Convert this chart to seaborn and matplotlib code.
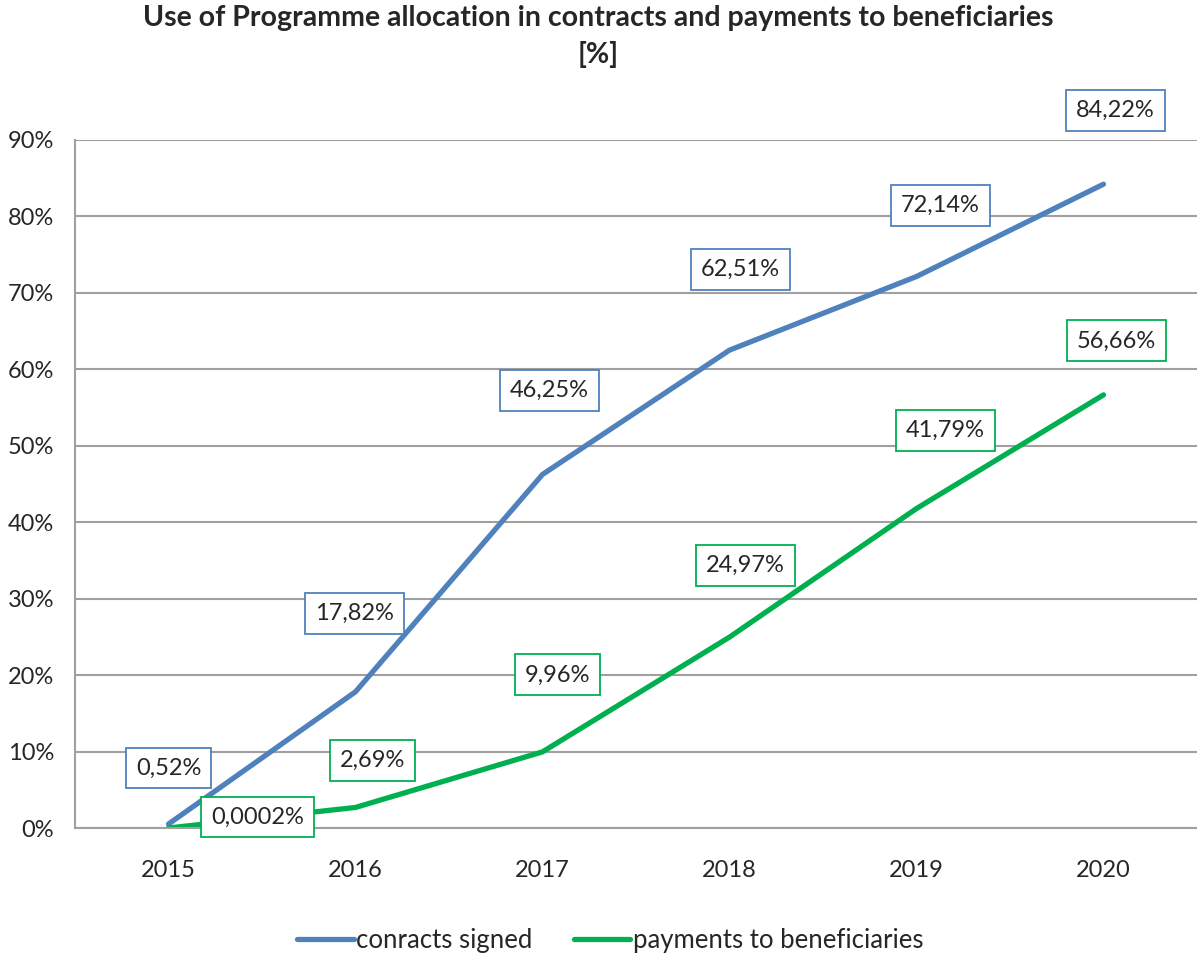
import numpy as np
import matplotlib
matplotlib.use("Agg")
import matplotlib.pyplot as plt
import pandas as pd
import seaborn as sns

years = ["2015", "2016", "2017", "2018", "2019", "2020"]
contracts = [0.52, 17.82, 46.25, 62.51, 72.14, 84.22]
payments = [0.0002, 2.69, 9.96, 24.97, 41.79, 56.66]
contract_labels = ["0,52%", "17,82%", "46,25%", "62,51%", "72,14%", "84,22%"]
payment_labels = ["0,0002%", "2,69%", "9,96%", "24,97%", "41,79%", "56,66%"]
series_names = ["conracts signed", "payments to beneficiaries"]

sns.set_style("white")
plt.rcParams['font.family'] = ['Lato', 'DejaVu Sans']

blue = "#4F81BD"
green = "#00B050"
grid = "#A0A0A0"

df = pd.DataFrame({
    "pos": list(range(len(years))) * 2,
    "value": contracts + payments,
    "series": [series_names[0]] * len(years) + [series_names[1]] * len(years),
})

fig = plt.figure(figsize=(11.97, 9.55), dpi=100)
ax = fig.add_axes([75 / 1197, 1 - 828 / 955, 1 - 75 / 1197, (828 - 140) / 955])

sns.lineplot(data=df, x="pos", y="value", hue="series", palette=[blue, green],
             linewidth=3.8, ax=ax, legend=False, solid_capstyle="round")

ax.set_xlim(-0.5, 5.5)
ax.set_ylim(0, 90)
ax.set_yticks(np.arange(0, 91, 10))
ax.set_yticklabels([f"{v}%" for v in range(0, 91, 10)], fontsize=17)
ax.set_xticks(np.arange(-0.5, 5.6, 1))
ax.set_xticklabels([])
ax.set_xticks(range(len(years)), minor=True)
ax.set_xticklabels(years, minor=True, fontsize=17)
ax.tick_params(axis="x", which="major", length=9, width=1.5, color=grid, direction="out")
ax.tick_params(axis="x", which="minor", length=0, pad=23)
ax.tick_params(axis="y", length=7, width=1.5, color=grid, direction="out", pad=8)
ax.set_xlabel("")
ax.set_ylabel("")
ax.grid(axis="y", color=grid, linewidth=1.5)
ax.set_axisbelow(True)
for side in ["top", "right"]:
    ax.spines[side].set_visible(False)
for side in ["left", "bottom"]:
    ax.spines[side].set_color(grid)
    ax.spines[side].set_linewidth(1.5)

# label offsets in pixels from the data point
blue_off = [(0, 56), (-1, 78), (7, 84), (11, 81), (24, 71), (12, 74)]
green_off = [(89, 11), (17, 47), (15, 77), (16, 72), (29, 78), (13, 54)]

for i in range(len(years)):
    ax.annotate(contract_labels[i], (i, contracts[i]), xytext=blue_off[i],
                textcoords="offset pixels", ha="center", va="center", fontsize=17,
                bbox=dict(boxstyle="square,pad=0.42", fc="white", ec=blue, lw=1.3),
                zorder=5)
    ax.annotate(payment_labels[i], (i, payments[i]), xytext=green_off[i],
                textcoords="offset pixels", ha="center", va="center", fontsize=17,
                bbox=dict(boxstyle="square,pad=0.42", fc="white", ec=green, lw=1.3),
                zorder=5)

fig.text(0.5, 1 - 18 / 955, "Use of Programme allocation in contracts and payments to beneficiaries",
         ha="center", va="center", fontsize=20.5, fontweight="bold")
fig.text(0.5, 1 - 55 / 955, "[%]", ha="center", va="center", fontsize=20.5, fontweight="bold")

handles = [plt.Line2D([], [], color=blue, lw=3.8), plt.Line2D([], [], color=green, lw=3.8)]
fig.legend(handles, series_names, loc="center", bbox_to_anchor=(0.51, 1 - 940 / 955),
           ncol=2, frameon=False, fontsize=18.5, handlelength=2.2, handletextpad=0.1,
           columnspacing=1.6)

fig.savefig("out.png", dpi=100)
